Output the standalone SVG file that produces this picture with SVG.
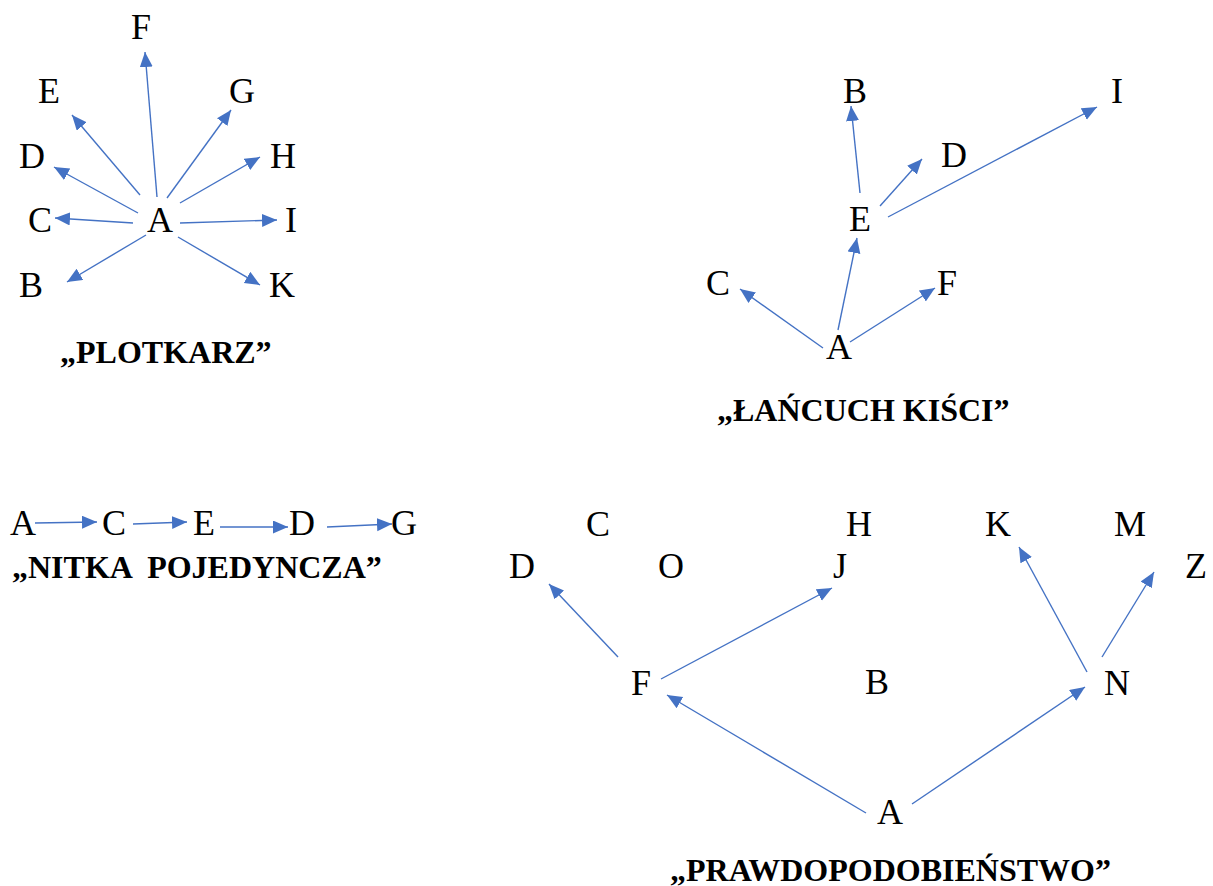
<svg xmlns="http://www.w3.org/2000/svg" width="1213" height="886" viewBox="0 0 1213 886">
  <style>
    .n { font-family: "Liberation Serif", Tinos, "Times New Roman", "DejaVu Serif", serif; font-size: 36px; fill: #000; text-anchor: middle; }
    .t { font-family: "Liberation Serif", Tinos, "Times New Roman", "DejaVu Serif", serif; font-size: 32px; font-weight: bold; fill: #000; }
    .e { stroke: #4472C4; stroke-width: 1.4; fill: none; marker-end: url(#arr); }
  </style>
  <defs>
    <marker id="arr" markerUnits="userSpaceOnUse" markerWidth="16" markerHeight="14" refX="15" refY="6.5" orient="auto">
      <path d="M0,0 L15,6.5 L0,13 z" fill="#4472C4"/>
    </marker>
  </defs>

  <rect width="1213" height="886" fill="#fff"/>

  <!-- connectors -->
  <g id="connectors">
    <!-- star: A to all -->
    <line class="e" x1="157" y1="197" x2="145" y2="52"/>
    <line class="e" x1="140" y1="195" x2="72" y2="115"/>
    <line class="e" x1="167" y1="198" x2="231" y2="110"/>
    <line class="e" x1="138" y1="213" x2="54" y2="167"/>
    <line class="e" x1="180" y1="203" x2="260" y2="157"/>
    <line class="e" x1="133" y1="223" x2="55" y2="218"/>
    <line class="e" x1="180" y1="223" x2="277" y2="220"/>
    <line class="e" x1="146" y1="235" x2="67" y2="282"/>
    <line class="e" x1="178" y1="237" x2="260" y2="285"/>

    <!-- cluster chain -->
    <line class="e" x1="823" y1="348" x2="740" y2="289"/>
    <line class="e" x1="838" y1="330" x2="857" y2="238"/>
    <line class="e" x1="850" y1="342" x2="935" y2="288"/>
    <line class="e" x1="860" y1="193" x2="851" y2="106"/>
    <line class="e" x1="880" y1="206" x2="922" y2="159"/>
    <line class="e" x1="888" y1="217" x2="1097" y2="107"/>

    <!-- single thread -->
    <line class="e" x1="35" y1="523" x2="97" y2="522"/>
    <line class="e" x1="133" y1="524" x2="187" y2="522"/>
    <line class="e" x1="220" y1="527" x2="288" y2="527"/>
    <line class="e" x1="327" y1="527" x2="392" y2="524"/>

    <!-- probability -->
    <line class="e" x1="618" y1="657" x2="549" y2="584"/>
    <line class="e" x1="661" y1="679" x2="832" y2="588"/>
    <line class="e" x1="1087" y1="672" x2="1019" y2="547"/>
    <line class="e" x1="1102" y1="657" x2="1154" y2="572"/>
    <line class="e" x1="866" y1="813" x2="667" y2="695"/>
    <line class="e" x1="912" y1="804" x2="1085" y2="687"/>
  </g>

  <!-- PLOTKARZ -->
  <g id="plotkarz">
    <g id="p-F"><text class="n" x="141" y="39">F</text></g>
    <g id="p-E"><text class="n" x="49" y="103">E</text></g>
    <g id="p-G"><text class="n" x="242" y="103">G</text></g>
    <g id="p-D"><text class="n" x="32" y="168">D</text></g>
    <g id="p-H"><text class="n" x="283" y="168">H</text></g>
    <g id="p-C"><text class="n" x="40" y="232">C</text></g>
    <g id="p-A"><text class="n" x="160" y="232">A</text></g>
    <g id="p-I"><text class="n" x="291" y="232">I</text></g>
    <g id="p-B"><text class="n" x="31" y="297">B</text></g>
    <g id="p-K"><text class="n" x="282" y="297">K</text></g>
    <text class="t" x="60" y="363">„PLOTKARZ”</text>
  </g>

  <!-- ŁAŃCUCH KIŚCI -->
  <g id="lancuch">
    <g id="l-B"><text class="n" x="855" y="103">B</text></g>
    <g id="l-I"><text class="n" x="1117" y="103">I</text></g>
    <g id="l-D"><text class="n" x="954" y="167">D</text></g>
    <g id="l-E"><text class="n" x="860" y="231">E</text></g>
    <g id="l-C"><text class="n" x="718" y="295">C</text></g>
    <g id="l-F"><text class="n" x="947" y="295">F</text></g>
    <g id="l-A"><text class="n" x="839" y="359">A</text></g>
    <text class="t" x="717" y="421">„ŁAŃCUCH KIŚCI”</text>
  </g>

  <!-- NITKA POJEDYNCZA -->
  <g id="nitka">
    <g id="n-A"><text class="n" x="23" y="535">A</text></g>
    <g id="n-C"><text class="n" x="114" y="535">C</text></g>
    <g id="n-E"><text class="n" x="204" y="535">E</text></g>
    <g id="n-D"><text class="n" x="302" y="535">D</text></g>
    <g id="n-G"><text class="n" x="404" y="535">G</text></g>
    <text class="t" x="12" y="578" xml:space="preserve">„NITKA  POJEDYNCZA”</text>
  </g>

  <!-- PRAWDOPODOBIEŃSTWO -->
  <g id="prawdopodobienstwo">
    <g id="r-C"><text class="n" x="598" y="536">C</text></g>
    <g id="r-H"><text class="n" x="859" y="536">H</text></g>
    <g id="r-K"><text class="n" x="998" y="536">K</text></g>
    <g id="r-M"><text class="n" x="1130" y="536">M</text></g>
    <g id="r-D"><text class="n" x="522" y="578">D</text></g>
    <g id="r-O"><text class="n" x="671" y="578">O</text></g>
    <g id="r-J"><text class="n" x="840" y="578">J</text></g>
    <g id="r-Z"><text class="n" x="1196" y="578">Z</text></g>
    <g id="r-F"><text class="n" x="641" y="695">F</text></g>
    <g id="r-B"><text class="n" x="877" y="694">B</text></g>
    <g id="r-N"><text class="n" x="1117" y="695">N</text></g>
    <g id="r-A"><text class="n" x="890" y="824">A</text></g>
    <text class="t" x="670" y="881">„PRAWDOPODOBIEŃSTWO”</text>
  </g>
</svg>
